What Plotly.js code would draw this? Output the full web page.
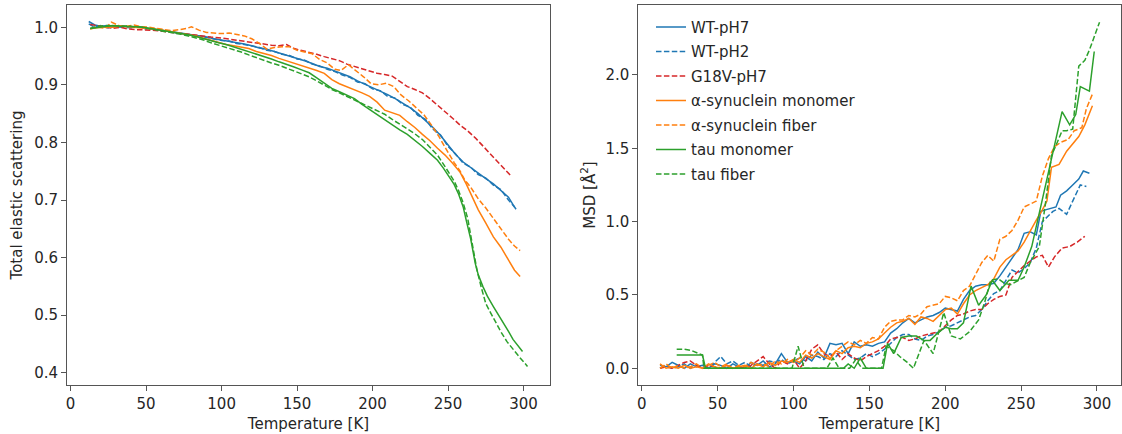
<!DOCTYPE html>
<html>
<head>
<meta charset="utf-8">
<script src="https://cdn.plot.ly/plotly-3.0.1.min.js"></script>
<style>html,body{margin:0;padding:0;background:#fff;}#chart{width:1122px;height:434px;}</style>
</head>
<body>
<div id="chart"></div>
<script>
// ---------- Series names ----------
const seriesNames = ['WT-pH7','WT-pH2','G18V-pH7','α-synuclein monomer','α-synuclein fiber','tau monomer','tau fiber'];

// ---------- Left panel: total elastic scattering ----------
const T_wt7_L = [12,16,20,25,30,35,40,45,50,55,60,65,70,75,80,85,90,95,100,105,110,115,120,125,130,135,140,145,150,155,160,165,170,175,180,185,190,195,200,205,210,215,220,225,230,235,240,245,250,255,260,265,270,275,280,285,290,293,295];
const esc_wt7 = [1.010,1.004,1.002,1.003,1.001,1.002,1.000,1.001,0.998,0.997,0.995,0.993,0.991,0.989,0.987,0.986,0.983,0.980,0.978,0.976,0.973,0.971,0.968,0.964,0.962,0.958,0.955,0.951,0.946,0.942,0.937,0.932,0.929,0.924,0.918,0.914,0.907,0.901,0.895,0.890,0.883,0.876,0.868,0.860,0.850,0.838,0.826,0.812,0.795,0.779,0.766,0.756,0.746,0.737,0.728,0.717,0.705,0.692,0.684];

const T_wt2_L = [12,16,20,25,30,35,40,45,50,55,60,65,70,75,80,85,90,95,100,105,110,115,120,125,130,135,140,145,150,155,160,165,170,175,180,185,190,195,200,205,210,215,220,225,230,235,240,245,250,255,260,265,270,275,280,285,290,294];
const esc_wt2 = [1.006,1.000,1.003,0.999,1.001,1.000,0.999,1.001,0.997,0.998,0.994,0.993,0.990,0.989,0.986,0.985,0.982,0.980,0.977,0.976,0.972,0.970,0.967,0.965,0.960,0.958,0.953,0.951,0.945,0.943,0.936,0.933,0.927,0.923,0.917,0.913,0.905,0.902,0.893,0.890,0.880,0.877,0.866,0.861,0.847,0.840,0.823,0.813,0.793,0.780,0.764,0.757,0.744,0.738,0.726,0.718,0.700,0.688];

const T_g18v_L = [13,18,23,28,33,38,43,48,53,58,63,68,73,78,83,88,93,98,103,108,113,118,123,128,133,138,143,148,153,158,163,168,173,178,183,188,193,198,203,208,213,218,223,228,233,238,243,248,253,258,263,268,273,278,283,288,292];
const esc_g18v = [1.005,1.003,1.000,0.998,1.000,0.997,0.996,0.996,0.995,0.994,0.992,0.990,0.989,0.988,0.986,0.985,0.983,0.982,0.980,0.978,0.977,0.975,0.973,0.971,0.969,0.968,0.970,0.963,0.960,0.956,0.953,0.949,0.946,0.942,0.936,0.932,0.928,0.924,0.920,0.918,0.915,0.906,0.897,0.892,0.886,0.876,0.865,0.854,0.842,0.830,0.820,0.808,0.794,0.781,0.767,0.753,0.741];

const T_asm_L = [13,18,23,28,33,38,43,48,53,58,63,68,73,78,83,88,93,98,103,108,113,118,123,128,133,138,143,148,153,158,163,168,173,178,183,188,193,198,203,208,213,218,223,228,233,238,243,248,253,258,262,266,270,275,280,285,290,294,297.7];
const esc_asm = [0.998,1.000,1.001,1.000,1.002,1.001,1.000,0.999,0.997,0.996,0.994,0.992,0.990,0.988,0.985,0.981,0.977,0.973,0.970,0.968,0.966,0.963,0.958,0.955,0.951,0.946,0.942,0.938,0.934,0.929,0.925,0.920,0.909,0.902,0.897,0.891,0.886,0.880,0.870,0.856,0.851,0.847,0.836,0.826,0.814,0.803,0.790,0.778,0.764,0.748,0.728,0.705,0.683,0.660,0.636,0.618,0.597,0.578,0.567];

const T_asf_L = [13,18,23,27,32,37,42,47,52,57,62,67,72,77,80,85,90,95,100,105,110,115,120,125,130,135,140,145,150,155,160,165,170,175,179,184,189,194,199,204,209,214,219,224,229,234,239,244,249,254,258,261,265,270,275,280,286,290,294,297.7];
const esc_asf = [0.997,1.000,0.998,1.009,1.003,1.002,1.004,1.001,1.000,0.998,0.996,0.994,0.996,0.998,1.001,0.995,0.991,0.990,0.989,0.990,0.987,0.985,0.980,0.972,0.962,0.965,0.966,0.966,0.960,0.957,0.954,0.944,0.938,0.927,0.925,0.935,0.925,0.914,0.902,0.900,0.903,0.897,0.882,0.872,0.860,0.848,0.830,0.810,0.787,0.765,0.750,0.735,0.722,0.702,0.686,0.668,0.645,0.632,0.620,0.612];

const T_tm_L = [13,18,23,28,33,38,43,48,53,58,63,68,73,78,83,88,93,98,103,108,113,118,123,128,133,138,143,148,153,158,163,168,173,178,183,188,193,198,203,208,213,218,223,228,233,238,243,247,251,254,257,260,262,265,268,270,273,276,280,284,287,290,293,296,299.3];
const esc_tm = [0.998,1.000,1.002,1.003,1.002,1.002,1.001,1.000,0.998,0.996,0.994,0.992,0.990,0.987,0.984,0.980,0.977,0.973,0.970,0.966,0.962,0.958,0.953,0.949,0.945,0.940,0.936,0.931,0.926,0.921,0.912,0.903,0.894,0.888,0.882,0.876,0.866,0.857,0.848,0.840,0.831,0.822,0.814,0.804,0.793,0.781,0.769,0.755,0.740,0.727,0.710,0.688,0.665,0.632,0.590,0.570,0.550,0.533,0.515,0.498,0.486,0.472,0.458,0.448,0.437];

const T_tf_L = [13,18,23,28,33,38,43,48,53,58,63,68,73,78,83,88,93,98,103,108,113,118,123,128,133,138,143,148,153,158,163,168,173,178,183,188,193,198,203,208,213,218,223,228,233,238,243,247,251,254,257,260,263,266,269,272,275,278,281,285,289,293,297,300,302.6];
const esc_tf = [0.998,1.002,1.003,1.003,1.003,1.002,1.001,1.000,0.997,0.995,0.993,0.991,0.988,0.985,0.982,0.978,0.973,0.969,0.966,0.961,0.957,0.952,0.947,0.943,0.938,0.934,0.929,0.925,0.920,0.914,0.907,0.899,0.892,0.886,0.880,0.874,0.868,0.862,0.855,0.849,0.840,0.832,0.824,0.815,0.805,0.792,0.778,0.762,0.745,0.733,0.716,0.695,0.668,0.625,0.580,0.548,0.520,0.505,0.490,0.471,0.454,0.440,0.428,0.419,0.411];

// ---------- Right panel: MSD ----------
const T_wt7_R = [12,16,20,24,28,32,36,40,44,48,52,56,60,64,68,72,76,80,84,88,92,96,100,104,108,112,116,120,124,128,132,136,140,144,148,152,156,160,164,168,172,176,180,184,188,192,196,200,204,208,212,216,220,224,228,232,236,240,244,248,252,256,260,263,266,270,273,276,280,284,288,291,295];
const msd_wt7 = [0.02,0.01,0.04,0.02,0.00,0.03,0.01,0.02,0.00,0.03,0.02,0.00,0.03,0.01,0.00,0.04,0.02,0.05,0.01,0.03,0.10,0.04,0.05,0.03,0.08,0.05,0.11,0.07,0.17,0.16,0.17,0.10,0.18,0.15,0.16,0.15,0.17,0.18,0.24,0.27,0.31,0.34,0.31,0.33,0.35,0.36,0.38,0.41,0.40,0.39,0.47,0.53,0.56,0.57,0.57,0.58,0.63,0.69,0.75,0.81,0.92,0.93,0.91,1.07,1.08,1.09,1.10,1.18,1.21,1.25,1.29,1.345,1.33];

const T_wt2_R = [12,16,20,24,28,32,36,40,44,48,52,56,60,64,68,72,76,80,84,88,92,96,100,104,108,112,116,120,124,128,132,136,140,144,148,152,156,160,164,168,172,176,180,184,188,192,196,200,204,208,212,216,220,224,228,232,236,240,244,248,252,256,260,264,267,271,275,280,284,289,293];
const msd_wt2 = [0.00,0.02,0.00,0.01,0.03,0.00,0.02,0.01,0.00,0.04,0.08,0.03,0.05,0.02,0.04,0.01,0.03,0.02,0.05,0.04,0.06,0.03,0.05,0.07,0.05,0.09,0.08,0.06,0.10,0.08,0.12,0.09,0.06,0.07,0.10,0.08,0.10,0.13,0.17,0.21,0.23,0.23,0.20,0.19,0.22,0.23,0.25,0.28,0.29,0.31,0.33,0.35,0.36,0.40,0.46,0.51,0.53,0.60,0.67,0.65,0.68,0.72,0.82,1.00,1.03,1.07,1.09,1.05,1.14,1.25,1.24];

const T_g18v_R = [12,16,20,24,28,32,36,40,44,48,52,56,60,64,68,72,76,80,84,88,92,96,100,104,108,112,116,120,124,128,132,136,140,144,148,152,156,160,164,168,172,176,180,184,188,192,196,200,204,208,212,216,220,224,228,232,236,240,244,248,252,256,260,264,268,272,277,282,287,292];
const msd_g18v = [0.00,0.01,0.00,0.02,0.04,0.05,0.02,0.00,0.02,0.01,0.00,0.02,0.00,0.01,0.00,0.02,0.05,0.08,0.03,0.00,0.05,0.03,0.06,0.00,0.05,0.13,0.16,0.10,0.08,0.11,0.06,0.10,0.07,0.05,0.08,0.10,0.12,0.15,0.20,0.21,0.21,0.19,0.20,0.22,0.23,0.24,0.25,0.29,0.33,0.36,0.37,0.39,0.40,0.40,0.44,0.47,0.49,0.50,0.62,0.66,0.70,0.73,0.76,0.77,0.69,0.76,0.82,0.83,0.86,0.90];

const T_asm_R = [12,16,20,24,28,32,36,40,44,48,52,56,60,64,68,72,76,80,84,88,92,96,100,104,108,112,116,120,124,128,132,136,140,144,148,152,156,160,164,168,172,176,180,184,188,192,196,200,204,208,212,216,220,224,228,232,236,240,244,248,252,256,260,264,267,270,275,280,284,288,292,297];
const msd_asm = [0.03,0.00,0.01,0.00,0.02,0.00,0.01,0.00,0.03,0.01,0.00,0.02,0.00,0.01,0.02,0.00,0.03,0.01,0.04,0.02,0.05,0.04,0.06,0.04,0.09,0.07,0.10,0.08,0.06,0.12,0.10,0.14,0.15,0.14,0.17,0.18,0.20,0.24,0.28,0.31,0.32,0.34,0.30,0.35,0.34,0.32,0.36,0.40,0.41,0.37,0.44,0.50,0.53,0.55,0.57,0.61,0.69,0.74,0.77,0.80,0.86,0.94,1.01,1.08,1.14,1.37,1.39,1.48,1.53,1.58,1.66,1.79];

const T_asf_R = [12,16,20,24,28,32,36,40,44,48,52,56,60,64,68,72,76,80,84,88,92,96,100,104,108,112,116,120,124,128,132,136,140,144,148,152,156,160,164,168,172,176,180,184,188,192,196,200,204,208,212,216,220,224,228,232,236,240,244,248,252,256,260,264,268,272,276,281,285,290,293,297];
const msd_asf = [0.00,0.03,0.00,0.02,0.00,0.01,0.03,0.00,0.02,0.04,0.01,0.03,0.00,0.02,0.01,0.04,0.02,0.03,0.01,0.05,0.03,0.06,0.04,0.07,0.12,0.09,0.13,0.11,0.07,0.12,0.15,0.18,0.16,0.19,0.17,0.21,0.20,0.28,0.32,0.33,0.33,0.36,0.35,0.37,0.42,0.43,0.44,0.49,0.48,0.46,0.53,0.56,0.64,0.72,0.77,0.73,0.88,0.90,0.94,1.01,1.10,1.12,1.14,1.31,1.43,1.51,1.54,1.56,1.62,1.64,1.77,1.87];

const T_tm_R = [23,28,32,36,40,42,50,60,70,80,90,100,110,120,130,133,136,140,144,148,152,156,159,162,166,171,176,181,186,190,195,200,204,208,212,217,222,227,231,236,242,248,252,257,262,266,270,277,282,286,289,295,298.2];
const msd_tm = [0.09,0.09,0.09,0.09,0.09,0.00,0.00,0.00,0.00,0.00,0.00,0.00,0.00,0.00,0.00,0.00,0.03,0.00,0.07,0.00,0.00,0.00,0.00,0.17,0.10,0.21,0.22,0.22,0.19,0.19,0.24,0.28,0.27,0.27,0.31,0.56,0.43,0.50,0.60,0.53,0.60,0.60,0.69,0.83,1.06,1.25,1.43,1.75,1.66,1.73,1.92,1.89,2.16];

const T_tf_R = [23,28,33,37,40,41,60,80,99,103,107,122,126,130,137,141,145,150,155,158,161,166,170,175,179,186,192,196,199,204,210,216,222,226,230,235,239,243,248,252,256,259,262,266,270,273,277,280,284,288,292,295,301.7];
const msd_tf = [0.13,0.13,0.12,0.10,0.09,0.00,0.00,0.00,0.00,0.15,0.00,0.00,0.07,0.00,0.00,0.06,0.00,0.00,0.00,0.00,0.15,0.12,0.08,0.04,0.00,0.19,0.10,0.25,0.38,0.22,0.20,0.25,0.33,0.45,0.60,0.61,0.58,0.57,0.60,0.62,0.72,0.78,0.83,1.12,1.45,1.52,1.62,1.62,1.63,2.06,2.10,2.17,2.36];

// ---------- Axis tick values ----------
const xTicks = [0,50,100,150,200,250,300];
const yTicksLeft = [0.4,0.5,0.6,0.7,0.8,0.9,1.0];
const yTicksRight = [0.0,0.5,1.0,1.5,2.0];

// ---------- Styles ----------
const colors = ['#1f77b4','#1f77b4','#d62728','#ff7f0e','#ff7f0e','#2ca02c','#2ca02c'];
const dashes = ['solid','5.5px,2.4px','5.5px,2.4px','solid','5.5px,2.4px','solid','5.5px,2.4px'];

const leftData = [[T_wt7_L,esc_wt7],[T_wt2_L,esc_wt2],[T_g18v_L,esc_g18v],[T_asm_L,esc_asm],[T_asf_L,esc_asf],[T_tm_L,esc_tm],[T_tf_L,esc_tf]];
const rightData = [[T_wt7_R,msd_wt7],[T_wt2_R,msd_wt2],[T_g18v_R,msd_g18v],[T_asm_R,msd_asm],[T_asf_R,msd_asf],[T_tm_R,msd_tm],[T_tf_R,msd_tf]];

const traces = [];
leftData.forEach((d,i)=>{
  traces.push({x:d[0], y:d[1], type:'scatter', mode:'lines', xaxis:'x', yaxis:'y',
    name:seriesNames[i], legendgroup:'g'+i, showlegend:false,
    line:{color:colors[i], width:1.5, dash:dashes[i]}, hoverinfo:'skip'});
});
rightData.forEach((d,i)=>{
  traces.push({x:d[0], y:d[1], type:'scatter', mode:'lines', xaxis:'x2', yaxis:'y2',
    name:seriesNames[i], legendgroup:'g'+i, showlegend:true,
    line:{color:colors[i], width:1.5, dash:dashes[i]}, hoverinfo:'skip'});
});

const axisCommon = {showline:true, mirror:true, linecolor:'#555555', linewidth:1,
  ticks:'outside', ticklen:5, tickwidth:1, tickcolor:'#555555',
  showgrid:false, zeroline:false, tickfont:{size:15, color:'#262626'}};

const W = 1122;
const layout = {
  width:1122, height:434,
  margin:{l:0, r:0, t:5, b:49},
  paper_bgcolor:'#ffffff', plot_bgcolor:'#ffffff',
  font:{family:'DejaVu Sans, sans-serif', size:15, color:'#262626'},
  showlegend:true,
  legend:{x:651/W, y:0.985, xanchor:'left', yanchor:'top', bgcolor:'rgba(0,0,0,0)',
    font:{size:15, color:'#262626'}, tracegroupgap:2, traceorder:'grouped'},
  xaxis:Object.assign({}, axisCommon, {domain:[67/W, 550/W], range:[-2.4,317.5], anchor:'y',
    tickvals:xTicks, title:{text:'Temperature [K]', standoff:6, font:{size:15}}}),
  yaxis:Object.assign({}, axisCommon, {domain:[0,1], range:[0.3787,1.0387], anchor:'x',
    tickvals:yTicksLeft, tickformat:'.1f', title:{text:'Total elastic scattering', standoff:7, font:{size:15}}}),
  xaxis2:Object.assign({}, axisCommon, {domain:[638.3/W, 1120.5/W], range:[-2.3,315.5], anchor:'y2',
    tickvals:xTicks, title:{text:'Temperature [K]', standoff:6, font:{size:15}}}),
  yaxis2:Object.assign({}, axisCommon, {domain:[0,1], range:[-0.114,2.477], anchor:'x2',
    tickvals:yTicksRight, tickformat:'.1f', title:{text:'MSD [Å<sup>2</sup>]', standoff:6, font:{size:15}}})
};

Plotly.newPlot('chart', traces, layout, {displayModeBar:false, staticPlot:true});
</script>
</body>
</html>
